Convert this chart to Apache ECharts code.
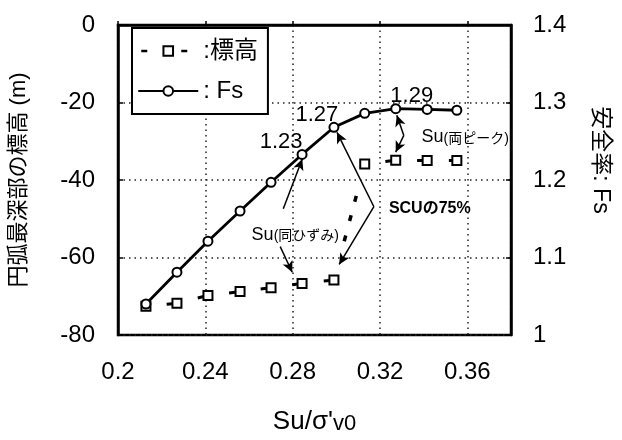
<!DOCTYPE html>
<html><head><meta charset="utf-8">
<script src="https://cdn.jsdelivr.net/npm/echarts@6/dist/echarts.min.js"></script>
<style>html,body{margin:0;padding:0;background:#fff}#c{width:622px;height:440px}</style>
</head><body><div id="c"></div>
<script>
// Su / sigma'v0 (x)
const ratio = [0.2128, 0.2270, 0.2412, 0.2559, 0.2701, 0.2843, 0.2989, 0.3130, 0.3272, 0.3416, 0.3552];
// safety factor Fs (right axis)
const fsValues = [1.040, 1.081, 1.121, 1.160, 1.197, 1.233, 1.268, 1.286, 1.292, 1.291, 1.290];
// elevation of deepest point of slip circle (m) (left axis)
const elevValues = [-72.6, -71.8, -69.8, -68.8, -67.8, -66.7, -65.8, -35.9, -34.9, -35.0, -35.0];
// index where the elevation jumps (dashed connector drawn separately)
const elevJump = 7;
// indices of Fs points carrying a value label
const labelledFs = [5, 6, 8];
// annotation arrows [from, to] in data coordinates (x, elevation)
const arrows = [
  [[0.2757, -47.4], [0.2844, -34.6]],
  [[0.2743, -57.2], [0.2798, -63.8]],
  [[0.3172, -46.9], [0.3003, -27.7]],
  [[0.3172, -46.9], [0.3013, -61.8]],
  [[0.3309, -28.5], [0.3277, -23.3]],
  [[0.3309, -28.5], [0.3272, -32.8]]
];
// annotation texts
const notes = [
  {at: [0.2812, -54.1], text: '{a|Su}{b|(同ひずみ)}'},
  {at: [0.3428, -47.4], text: '{c|SCUの75%}'},
  {at: [0.3590, -29.0], text: '{a|Su}{b|(両ピーク)}'}
];

const FONT = '"Liberation Sans", "Noto Sans CJK JP", sans-serif';
const chart = echarts.init(document.getElementById('c'), null, {renderer: 'canvas'});

const fsLabelOffset = {5: [-21, 10], 6: [-17, 10], 8: [16, 10]};
const fsData = ratio.map((x, i) => {
  const d = {value: [x, fsValues[i]]};
  if (labelledFs.includes(i)) {
    d.label = {show: true, position: 'top', distance: 6, offset: fsLabelOffset[i],
      formatter: p => p.value[1].toFixed(2), fontSize: 22, color: '#000', fontFamily: FONT};
  }
  return d;
});
const elevPoints = ratio.map((x, i) => [x, elevValues[i]]);
const elevData = [...elevPoints.slice(0, elevJump), '-', ...elevPoints.slice(elevJump)];
const connector = [elevPoints[elevJump - 1], elevPoints[elevJump]];

chart.setOption({
  animation: false,
  backgroundColor: '#fff',
  textStyle: {fontFamily: FONT, color: '#000'},
  grid: {left: 116, right: 111, top: 25, bottom: 103, show: true, borderColor: '#000', borderWidth: 2.5, backgroundColor: 'transparent'},
  legend: {
    left: 132, top: 28, orient: 'vertical', padding: [11, 10, 11, 5], itemGap: 16,
    itemWidth: 60, itemHeight: 12, itemTextGap: 5,
    borderColor: '#000', borderWidth: 2, backgroundColor: '#fff',
    textStyle: {fontSize: 24, color: '#000', fontFamily: FONT},
    formatter: n => n === '標高' ? ':標高' : ': Fs',
    data: [
      {name: '標高', lineStyle: {type: [0.01, 3, 6, 34, 6, 40], width: 2.5, dashOffset: 0}},
      {name: 'Fs'}
    ]
  },
  xAxis: {
    type: 'value', min: 0.2, max: 0.38, interval: 0.04,
    name: "Su/σ'{s|v0}", nameLocation: 'middle', nameGap: 74,
    nameTextStyle: {fontSize: 26, color: '#000', fontFamily: FONT, rich: {s: {fontSize: 22, fontFamily: FONT, padding: [4, 0, 0, 0]}}},
    axisLine: {show: true, lineStyle: {color: '#000', width: 2.5}},
    axisTick: {show: true, inside: true, length: 4, lineStyle: {color: '#000', width: 1.5}},
    axisLabel: {fontSize: 24, color: '#000', margin: 25, showMaxLabel: false, fontFamily: FONT},
    splitLine: {show: true, lineStyle: {color: '#222', width: 1.5, type: [1.5, 4]}}
  },
  yAxis: [
    {
      type: 'value', min: -80, max: 0, interval: 20, position: 'left',
      name: '円弧最深部の標高 (m)', nameLocation: 'middle', nameGap: 80,
      nameTextStyle: {fontSize: 22, color: '#000', fontFamily: FONT, padding: [0, 0, 8, 0]},
      axisLine: {show: true, lineStyle: {color: '#000', width: 2.5}},
      axisTick: {show: true, inside: true, length: 5, lineStyle: {color: '#000', width: 1.5}},
      axisLabel: {fontSize: 24, color: '#000', margin: 23, fontFamily: FONT},
      splitLine: {show: true, lineStyle: {color: '#222', width: 1.5, type: [1.5, 4]}}
    },
    {
      type: 'value', min: 1, max: 1.4, interval: 0.1, position: 'right',
      name: '安全率: Fs', nameLocation: 'middle', nameGap: 78, nameRotate: -90,
      nameTextStyle: {fontSize: 23, color: '#000', fontFamily: FONT, padding: [0, 40, 0, 0]},
      axisLine: {show: true, lineStyle: {color: '#000', width: 2.5}},
      axisTick: {show: true, inside: true, length: 5, lineStyle: {color: '#000', width: 1.5}},
      axisLabel: {fontSize: 24, color: '#000', margin: 22, fontFamily: FONT},
      splitLine: {show: false}
    }
  ],
  series: [
    {
      name: '標高', type: 'line', yAxisIndex: 0, data: elevData, connectNulls: false,
      symbol: 'emptyRect', symbolSize: 9,
      itemStyle: {color: '#000', borderColor: '#000', borderWidth: 2.5},
      lineStyle: {color: '#000', width: 3, type: [6, 25.8], dashOffset: 11},
      z: 3,
      markLine: {
        silent: true, symbol: ['none', 'arrow'], symbolSize: [8, 11], precision: 4,
        label: {show: false},
        lineStyle: {color: '#000', width: 1.5, type: 'solid'},
        data: arrows.map(a => [{coord: a[0]}, {coord: a[1]}])
      },
      markPoint: {
        silent: true, symbol: 'rect', symbolSize: 1, itemStyle: {color: 'rgba(0,0,0,0)'},
        label: {
          show: true, position: 'inside', color: '#000', fontFamily: FONT,
          rich: {
            a: {fontSize: 18, fontFamily: FONT, color: '#000'},
            b: {fontSize: 14, fontFamily: FONT, color: '#000', padding: [3, 0, 0, 0]},
            c: {fontSize: 16, fontFamily: FONT, color: '#000', fontWeight: 'bold'}
          }
        },
        data: notes.map(n => ({coord: n.at, label: {formatter: n.text}}))
      }
    },
    {
      name: 'jump', type: 'line', yAxisIndex: 0, data: connector,
      symbol: 'none', silent: true,
      lineStyle: {color: '#000', width: 3.5, type: [0.01, 40, 6, 15, 6, 14, 6, 100]},
      z: 2
    },
    {
      name: 'Fs', type: 'line', yAxisIndex: 1, data: fsData,
      symbol: 'emptyCircle', symbolSize: 9,
      itemStyle: {color: '#000', borderColor: '#000', borderWidth: 2},
      lineStyle: {color: '#000', width: 2.8},
      z: 4
    }
  ]
});
</script>
</body></html>
